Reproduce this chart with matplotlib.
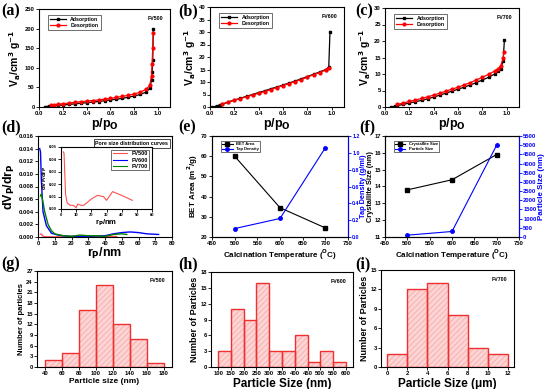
import matplotlib
matplotlib.use('Agg')
import matplotlib.pyplot as plt
import numpy as np

plt.rcParams['font.family'] = ['Liberation Sans', 'DejaVu Sans']
plt.rcParams['font.weight'] = 'bold'
plt.rcParams['mathtext.default'] = 'bf'
plt.rcParams['axes.linewidth'] = 0.8
plt.rcParams['hatch.linewidth'] = 0.4

# (a)-(c) isotherms
a_ads_p = [0.05, 0.08, 0.1, 0.13, 0.16, 0.2, 0.25, 0.3, 0.35, 0.4, 0.45, 0.5, 0.55, 0.6, 0.65, 0.7, 0.75, 0.8, 0.85, 0.9, 0.93, 0.945, 0.95, 0.955, 0.96]
a_ads_v = [1, 2, 3, 3.5, 4.5, 5, 6.5, 8, 9.5, 11, 12.5, 14, 16, 18, 20, 22, 25, 28, 32, 38, 48, 70, 90, 120, 200]
a_des_p = [0.1, 0.13, 0.16, 0.2, 0.25, 0.3, 0.35, 0.4, 0.45, 0.5, 0.55, 0.6, 0.65, 0.7, 0.75, 0.8, 0.85, 0.9, 0.93, 0.945, 0.95, 0.955, 0.96]
a_des_v = [4, 5.5, 7, 8.5, 10, 12, 13.5, 15, 16.5, 18, 20, 22, 24.5, 27, 30, 33, 38, 45, 55, 80, 110, 150, 190]

b_ads_p = [0.02, 0.04, 0.06, 0.08, 0.1, 0.15, 0.2, 0.25, 0.3, 0.35, 0.4, 0.45, 0.5, 0.55, 0.6, 0.65, 0.7, 0.75, 0.8, 0.85, 0.9, 0.95, 0.975, 0.985]
b_ads_v = [0, 0.2, 0.5, 0.8, 1.1, 2, 2.8, 3.5, 4.3, 5, 5.8, 6.5, 7.3, 8, 8.8, 9.6, 10.4, 11.3, 12.2, 13.1, 14, 15, 16, 30.2]
b_des_p = [0.1, 0.15, 0.2, 0.25, 0.3, 0.35, 0.4, 0.45, 0.5, 0.55, 0.6, 0.65, 0.7, 0.75, 0.8, 0.85, 0.9, 0.95, 0.975]
b_des_v = [1.2, 2, 2.7, 3.4, 4.1, 4.8, 5.5, 6.2, 7, 7.8, 8.6, 9.4, 10.2, 11, 12, 12.9, 13.8, 14.8, 15.8]

c_ads_p = [0.05, 0.08, 0.1, 0.15, 0.2, 0.25, 0.3, 0.35, 0.4, 0.45, 0.5, 0.55, 0.6, 0.65, 0.7, 0.75, 0.8, 0.85, 0.9, 0.93, 0.95, 0.97, 0.98]
c_ads_v = [0, 0.2, 0.4, 0.8, 1.2, 1.6, 2.0, 2.5, 3.0, 3.6, 4.2, 4.8, 5.4, 6.0, 6.7, 7.4, 8.2, 9.0, 10.0, 10.8, 11.6, 14.0, 20.3]
c_des_p = [0.1, 0.15, 0.2, 0.25, 0.3, 0.35, 0.4, 0.45, 0.5, 0.55, 0.6, 0.65, 0.7, 0.75, 0.8, 0.85, 0.9, 0.93, 0.95, 0.97, 0.975]
c_des_v = [0.8, 1.2, 1.7, 2.1, 2.6, 3.1, 3.6, 4.2, 4.8, 5.4, 6.0, 6.7, 7.4, 8.2, 9.0, 9.9, 10.9, 11.6, 12.5, 14.8, 16.8]

# (d) pore size distribution
fv600_r = [1, 1.5, 2, 3, 5, 8, 12, 15, 20, 30, 40, 45, 50, 55, 60, 65, 72]
fv600_dv = [0.014, 0.0135, 0.009, 0.004, 0.0018, 0.0006, 0.0003, 0.0002, 0.0001, 0.0001, 0.0002, 0.0005, 0.0007, 0.0008, 0.0007, 0.0005, 0.0004]
fv700_r = [1.5, 2, 3, 4, 6, 8, 10, 15, 20, 25, 30, 35, 40, 45, 50, 53]
fv700_dv = [0.0065, 0.0068, 0.0055, 0.004, 0.002, 0.001, 0.0005, 0.0002, 0.0001, 0.0003, 0.0002, 0.0002, 0.0001, 0.0004, 0.0005, 0.0004]
fv500_r = [1.5, 2, 3, 4, 6, 8, 10, 11, 13, 15, 20, 24, 28, 30, 34, 40, 47]
fv500_dv = [0.046, 0.045, 0.012, 0.005, 0.003, 0.003, 0.001, 0.004, 0.003, 0.003, 0.008, 0.011, 0.010, 0.007, 0.014, 0.011, 0.007]

# (e), (f)
temps = [500, 600, 700]
bet_area = [60, 34.5, 24.5]
tap_density = [0.1, 0.22, 1.06]
cryst_size = [13.8, 14.4, 15.9]
part_size = [100, 300, 5000]

# (g)-(i) histograms
g_edges = [40, 60, 80, 100, 120, 140, 160, 180]
g_counts = [2, 4, 16, 23, 12, 8, 1]
h_edges = [100, 150, 200, 250, 300, 350, 400, 450, 500, 550, 600]
h_counts = [3, 11, 9, 16, 3, 3, 6, 1, 3, 1]
i_edges = [0, 2, 4, 6, 8, 10, 12]
i_counts = [2, 12, 13, 8, 3, 2]

W, H = 550, 389
fig = plt.figure(figsize=(5.5, 3.89), dpi=100)


def ax_px(l, t, r, b):
    return fig.add_axes([l / W, 1 - b / H, (r - l) / W, (b - t) / H])


def style(ax, fs=4.2):
    ax.tick_params(labelsize=fs, length=2, width=0.6, pad=1)
    for lab in ax.get_xticklabels() + ax.get_yticklabels():
        lab.set_fontweight('bold')


def panel_label(x, y, s):
    fig.text(x / W, 1 - y / H, s, family=['Liberation Serif', 'DejaVu Serif'],
             fontsize=11.5, fontweight='bold', va='top', ha='left')


def isotherm(ax, ap, av, dp, dv, ymax, ystep, name):
    ax.plot(ap, av, color='black', marker='s', ms=2, lw=0.9, label='Adsorption')
    ax.plot(dp, dv, color='red', marker='o', ms=2, lw=0.9, label='Desorption')
    ax.set_xlim(0, 1.1)
    ax.set_ylim(0, ymax)
    ax.set_xticks(np.arange(0, 1.01, 0.2))
    ax.set_xticklabels(['%.1f' % v for v in np.arange(0, 1.01, 0.2)])
    ax.set_yticks(np.arange(0, ymax + 0.1, ystep))
    ax.set_xlabel('p/p$_O$', fontsize=9, fontweight='bold', labelpad=0)
    ax.set_ylabel('V$_a$/cm$^3$ g$^{-1}$', fontsize=7.5, fontweight='bold', labelpad=1)
    leg = ax.legend(loc='upper left', fontsize=3.8, handlelength=3, frameon=True,
                    fancybox=False, edgecolor='black', borderpad=0.4, labelspacing=0.3,
                    bbox_to_anchor=(0.05, 0.97))
    leg.get_frame().set_linewidth(0.5)
    ax.text(0.95, 0.93, name, transform=ax.transAxes, ha='right', va='top', fontsize=3.8, fontweight='bold')
    style(ax)


# (a)
ax = ax_px(39, 9, 170, 107)
isotherm(ax, a_ads_p, a_ads_v, a_des_p, a_des_v, 250, 50, 'FV500')
panel_label(1, 3, '(a)')

# (b)
ax = ax_px(210, 7, 344, 107)
isotherm(ax, b_ads_p, b_ads_v, b_des_p, b_des_v, 40, 5, 'FV600')
panel_label(178, 3, '(b)')

# (c)
ax = ax_px(385, 8, 519, 107)
isotherm(ax, c_ads_p, c_ads_v, c_des_p, c_des_v, 30, 5, 'FV700')
panel_label(355, 3, '(c)')

# (d)
ax = ax_px(38, 136, 172, 237)
ax.plot(fv500_r, np.array(fv500_dv) * 0.01, color='#ff5050', lw=1)
ax.plot(fv600_r, fv600_dv, color='blue', lw=1)
ax.plot(fv700_r, fv700_dv, color='green', lw=1)
ax.set_xlim(0, 80)
ax.set_ylim(0, 0.016)
ax.set_xticks(range(0, 81, 10))
ax.set_yticks(np.arange(0, 0.0161, 0.002))
ax.set_yticklabels(['%.3f' % v for v in np.arange(0, 0.0161, 0.002)])
ax.set_xlabel('r$_P$/nm', fontsize=9, fontweight='bold', labelpad=0)
ax.set_ylabel('dV$_P$/dr$_P$', fontsize=9, fontweight='bold', labelpad=1)
ax.text(0.97, 0.95, 'Pore size distribution curves', transform=ax.transAxes, ha='right', va='top',
        fontsize=3.8, fontweight='bold',
        bbox=dict(boxstyle='square,pad=0.3', fc='white', ec='black', lw=0.5))
style(ax)
panel_label(1, 119, '(d)')

ins = ax_px(61, 147, 152, 209)
ins.plot(fv500_r, fv500_dv, color='#ff5050', lw=0.8, label='FV500')
ins.plot([], [], color='blue', lw=0.8, label='FV600')
ins.plot([], [], color='green', lw=0.8, label='FV700')
ins.set_xlim(0, 60)
ins.set_ylim(0, 0.05)
ins.set_xticks(range(0, 61, 10))
ins.set_yticks(np.arange(0, 0.051, 0.01))
ins.set_yticklabels(['%.2f' % v for v in np.arange(0, 0.051, 0.01)])
ins.set_xlabel('r$_P$/nm', fontsize=5.5, fontweight='bold', labelpad=0)
ins.set_ylabel('dV$_P$/dr$_P$', fontsize=4.5, fontweight='bold', labelpad=0)
leg = ins.legend(loc='upper right', fontsize=4, handlelength=2.5, fancybox=False, edgecolor='black',
                 borderpad=0.3, labelspacing=0.2)
leg.get_frame().set_linewidth(0.5)
style(ins, 3)

# (e)
ax = ax_px(212, 136, 348, 237)
ax.plot(temps, bet_area, color='black', marker='s', ms=2.5, lw=0.8, label='BET Area')
ax.plot([], [], color='blue', marker='o', ms=2.5, lw=0.8, label='Tap Density')
ax.set_xlim(450, 750)
ax.set_ylim(20, 70)
ax.set_xticks(range(450, 751, 50))
ax.set_yticks(range(20, 71, 10))
ax.set_xlabel('Calcination Temperature ($^O$C)', fontsize=5.8, fontweight='bold', labelpad=1)
ax.set_ylabel('BET Area (m$^2$/g)', fontsize=5.8, fontweight='bold', labelpad=1)
leg = ax.legend(loc='upper left', fontsize=3, handlelength=2.5, fancybox=False, edgecolor='black',
                borderpad=0.3, labelspacing=0.2, bbox_to_anchor=(0.05, 0.97))
leg.get_frame().set_linewidth(0.5)
style(ax)
ax2 = ax.twinx()
ax2.plot(temps, tap_density, color='blue', marker='o', ms=2.5, lw=0.8)
ax2.set_ylim(0, 1.2)
ax2.set_yticks(np.arange(0, 1.21, 0.2))
ax2.set_yticklabels(['%.1f' % v for v in np.arange(0, 1.21, 0.2)])
ax2.set_ylabel('Tap Density (g/ml)', fontsize=5.3, fontweight='bold', color='blue', labelpad=0)
ax2.spines['right'].set_color('blue')
ax2.tick_params(axis='y', colors='blue')
style(ax2, 3.8)
panel_label(178, 119, '(e)')

# (f)
ax = ax_px(385, 136, 519, 237)
ax.plot(temps, cryst_size, color='black', marker='s', ms=2.5, lw=0.8, label='Crystallite Size')
ax.plot([], [], color='blue', marker='o', ms=2.5, lw=0.8, label='Particle Size')
ax.set_xlim(450, 750)
ax.set_ylim(11, 17)
ax.set_xticks(range(450, 751, 50))
ax.set_yticks(range(11, 18))
ax.set_xlabel('Calcination Temperature ($^O$C)', fontsize=5.8, fontweight='bold', labelpad=1)
ax.set_ylabel('Crystallite Size (nm)', fontsize=5.3, fontweight='bold', labelpad=0)
leg = ax.legend(loc='upper left', fontsize=3, handlelength=2.5, fancybox=False, edgecolor='black',
                borderpad=0.3, labelspacing=0.2, bbox_to_anchor=(0.05, 0.97))
leg.get_frame().set_linewidth(0.5)
style(ax)
ax2 = ax.twinx()
ax2.plot(temps, part_size, color='blue', marker='o', ms=2.5, lw=0.8)
ax2.set_ylim(0, 5500)
ax2.set_yticks(range(0, 5501, 500))
ax2.set_ylabel('Particle Size (nm)', fontsize=5.8, fontweight='bold', color='blue', labelpad=1)
ax2.spines['right'].set_color('blue')
ax2.tick_params(axis='y', colors='blue')
style(ax2)
panel_label(359, 119, '(f)')


def hist(ax, edges, counts, ymax, xlabel, ylabel, name, xfs, yfs, pad):
    left = edges[:-1]
    width = np.diff(edges)
    ax.bar(left, counts, width=width, align='edge', color='#fcd4d4', edgecolor='#f59a9a',
           hatch='//////', lw=0)
    ax.bar(left, counts, width=width, align='edge', fill=False, edgecolor='#f03030', lw=1)
    ax.set_xlim(edges[0] - pad, edges[-1] + pad)
    ax.set_ylim(0, ymax)
    ax.set_xticks(edges)
    ax.set_yticks(range(0, ymax + 1, 3))
    ax.set_xlabel(xlabel, fontsize=xfs, fontweight='bold', labelpad=1)
    ax.set_ylabel(ylabel, fontsize=yfs, fontweight='bold', labelpad=1)
    ax.text(0.95, 0.93, name, transform=ax.transAxes, ha='right', va='top', fontsize=3.8, fontweight='bold')
    style(ax)


# (g)
ax = ax_px(37, 271, 172, 367)
hist(ax, g_edges, g_counts, 27, 'Particle size (nm)', 'Number of particles', 'FV500', 6, 5.5, 10)
panel_label(1, 256, '(g)')

# (h)
ax = ax_px(211, 272, 353, 367)
hist(ax, h_edges, h_counts, 18, 'Particle Size (nm)', 'Number of Particles', 'FV600', 8.5, 6.5, 28)
panel_label(178, 256, '(h)')

# (i)
ax = ax_px(381, 270, 514, 367)
hist(ax, i_edges, i_counts, 15, 'Particle Size (\u03bcm)', 'Number of Particles', 'FV700', 8.5, 6.5, 0.6)
panel_label(355, 256, '(i)')

fig.savefig('out.png', dpi=100)
